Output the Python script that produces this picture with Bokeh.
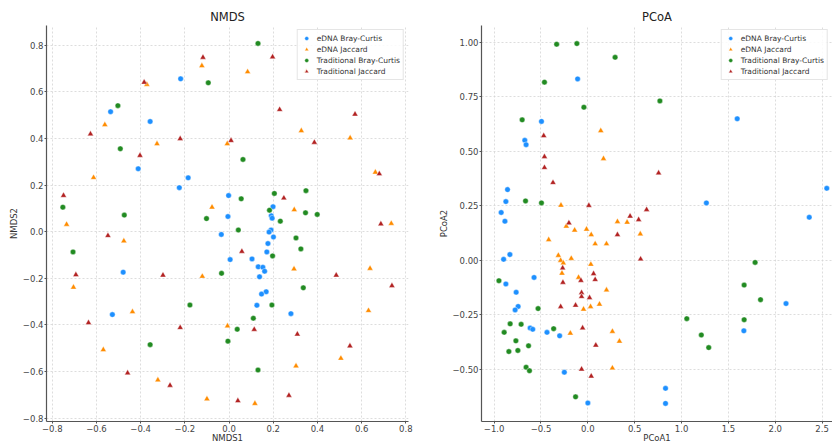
from bokeh.plotting import figure
from bokeh.layouts import row
from bokeh.models import FixedTicker, Range1d
from bokeh.embed import file_html
from bokeh.resources import INLINE

series_names = ["eDNA Bray-Curtis", "eDNA Jaccard", "Traditional Bray-Curtis", "Traditional Jaccard"]
series_colors = ["#1e90ff", "#ff8c00", "#228b22", "#b22222"]
series_markers = ["circle", "triangle", "circle", "triangle"]

# ---------------- NMDS ----------------
nmds_edna_bc_x = [-0.536, -0.411, -0.357, -0.219, -0.225, -0.185, -0.005, -0.002, -0.035, 0.199,
                  0.191, 0.195, 0.190, 0.181, -0.479, 0.005, -0.528, 0.201, 0.176, 0.171,
                  0.104, 0.132, 0.153, 0.161, 0.138, 0.168, 0.147, 0.126, 0.280]
nmds_edna_bc_y = [0.515, 0.270, 0.473, 0.656, 0.189, 0.231, 0.065, 0.155, -0.012, 0.107,
                  0.068, 0.058, 0.007, -0.002, -0.174, -0.120, -0.356, -0.023, -0.051, -0.087,
                  -0.117, -0.151, -0.153, -0.170, -0.194, -0.258, -0.268, -0.316, -0.352]

nmds_edna_j_x = [-0.735, -0.613, -0.562, -0.372, -0.326, -0.123, -0.077, -0.008, 0.084, 0.349,
                 0.327, 0.548, 0.662, 0.295, 0.734, -0.476, -0.704, -0.121, -0.437, -0.007,
                 -0.569, -0.322, -0.100, 0.294, 0.638, 0.631, 0.506, 0.303, 0.117]
nmds_edna_j_y = [0.031, 0.232, 0.459, 0.632, 0.377, 0.712, 0.105, 0.377, 0.686, 0.689,
                 0.433, 0.402, 0.255, 0.094, 0.035, -0.040, -0.239, -0.192, -0.344, -0.405,
                 -0.507, -0.637, -0.718, -0.160, -0.158, -0.339, -0.544, -0.577, -0.738]

nmds_trad_bc_x = [-0.752, -0.503, -0.492, -0.474, -0.094, -0.102, 0.131, 0.063, 0.055, 0.205,
                  0.348, 0.183, 0.346, 0.399, 0.232, 0.042, -0.706, -0.034, -0.177, -0.357,
                  -0.005, 0.303, 0.325, 0.197, 0.336, 0.194, 0.110, 0.037, 0.131]
nmds_trad_bc_y = [0.105, 0.541, 0.356, 0.071, 0.639, 0.056, 0.808, 0.310, 0.141, 0.164,
                  0.176, 0.092, 0.081, 0.074, 0.045, 0.007, -0.087, -0.179, -0.315, -0.485,
                  -0.470, -0.027, -0.074, -0.104, -0.241, -0.315, -0.372, -0.419, -0.594]

nmds_trad_j_x = [-0.749, -0.627, -0.403, -0.384, -0.221, -0.118, 0.009, 0.197, 0.229, 0.570,
                 0.386, 0.680, 0.248, 0.687, -0.548, -0.693, -0.299, -0.636, -0.221, -0.459,
                 -0.267, 0.058, 0.485, 0.737, 0.114, 0.309, 0.547, 0.271, 0.040]
nmds_trad_j_y = [0.155, 0.419, 0.327, 0.641, 0.399, 0.748, 0.391, 0.750, 0.524, 0.504,
                 0.383, 0.248, 0.144, 0.033, -0.017, -0.185, -0.187, -0.391, -0.412, -0.607,
                 -0.660, -0.085, -0.187, -0.232, -0.420, -0.440, -0.491, -0.703, -0.726]

# ---------------- PCoA ----------------
pcoa_edna_bc_x = [-0.109, -0.495, -0.673, -0.659, -0.857, -0.875, -0.925, -0.885, 1.594, 2.550,
                  1.265, 2.363, -0.899, -0.832, -0.574, -0.875, -0.765, -0.744, -0.776, -0.616,
                  -0.588, -0.436, -0.301, -0.251, 0.000, 2.115, 1.665, 0.829, 0.829]
pcoa_edna_bc_y = [0.833, 0.638, 0.551, 0.531, 0.325, 0.270, 0.220, 0.180, 0.650, 0.331,
                  0.264, 0.198, 0.005, 0.027, -0.078, -0.108, -0.146, -0.211, -0.227, -0.310,
                  -0.316, -0.330, -0.346, -0.513, -0.654, -0.198, -0.323, -0.587, -0.656]

pcoa_edna_j_x = [0.138, 0.167, -0.287, -0.230, -0.141, -0.014, 0.316, 0.419, 0.560, 0.036,
                 -0.418, 0.078, 0.199, -0.315, -0.290, -0.262, -0.177, 0.032, -0.276, -0.099,
                 0.199, 0.124, 0.029, -0.046, 0.262, -0.187, 0.337, 0.262]
pcoa_edna_j_y = [0.595, 0.467, 0.253, 0.157, 0.139, 0.143, 0.178, 0.175, 0.121, 0.118,
                 0.095, 0.076, 0.076, 0.023, 0.000, -0.012, 0.009, -0.018, -0.059, -0.078,
                 -0.136, -0.201, -0.212, -0.224, -0.326, -0.334, -0.371, -0.494]

pcoa_trad_bc_x = [-0.333, -0.117, 0.291, -0.463, -0.042, -0.701, -0.665, -0.495, 0.769, -0.949,
                  -0.531, -0.829, -0.712, -0.365, -0.893, -0.768, -0.633, -0.747, -0.843, -0.659,
                  -0.623, -0.131, 1.785, 1.668, 1.843, 1.056, 1.668, 1.211, 1.290]
pcoa_trad_bc_y = [0.992, 0.995, 0.932, 0.818, 0.703, 0.645, 0.273, 0.264, 0.732, -0.093,
                  -0.221, -0.291, -0.293, -0.313, -0.330, -0.369, -0.392, -0.413, -0.418, -0.490,
                  -0.506, -0.626, -0.009, -0.113, -0.180, -0.267, -0.272, -0.342, -0.400]

pcoa_trad_j_x = [-0.471, -0.463, -0.463, -0.372, 0.011, -0.202, 0.451, 0.542, 0.755, 0.627,
                 0.316, 0.563, -0.269, 0.061, -0.074, 0.078, -0.266, -0.067, -0.067, 0.018,
                 -0.131, -0.290, -0.056, 0.085, -0.067, 0.036]
pcoa_trad_j_y = [0.572, 0.476, 0.426, 0.357, 0.252, 0.172, 0.203, 0.187, 0.401, 0.233,
                 0.118, 0.006, -0.035, -0.061, -0.092, -0.088, -0.101, -0.148, -0.166, -0.171,
                 -0.206, -0.212, -0.310, -0.389, -0.499, -0.531]

# ---------------- ticks ----------------
nmds_ticks = [-0.8, -0.6, -0.4, -0.2, 0.0, 0.2, 0.4, 0.6, 0.8]
nmds_tick_labels = ["\u22120.8", "\u22120.6", "\u22120.4", "\u22120.2", "0.0", "0.2", "0.4", "0.6", "0.8"]
pcoa_x_ticks = [-1.0, -0.5, 0.0, 0.5, 1.0, 1.5, 2.0, 2.5]
pcoa_x_tick_labels = ["\u22121.0", "\u22120.5", "0.0", "0.5", "1.0", "1.5", "2.0", "2.5"]
pcoa_y_ticks = [-0.5, -0.25, 0.0, 0.25, 0.5, 0.75, 1.0]
pcoa_y_tick_labels = ["\u22120.50", "\u22120.25", "0.00", "0.25", "0.50", "0.75", "1.00"]

FONT = "DejaVu Sans"


def make_panel(title, series, xr, yr, xt, xtl, yt, ytl, xlabel, ylabel, width, mbl, mbr, ylab_standoff):
    p = figure(width=width, height=445, output_backend="svg", toolbar_location=None,
               x_range=Range1d(*xr), y_range=Range1d(*yr),
               min_border_left=mbl, min_border_right=mbr, min_border_top=25, min_border_bottom=22)
    p.title.text = title
    p.title.align = "center"
    p.title.text_font = FONT
    p.title.text_font_size = "11.5px"
    p.title.text_font_style = "normal"
    p.title.text_color = "#222222"
    p.title.standoff = 3
    p.outline_line_color = None
    p.background_fill_color = "white"
    p.border_fill_color = "white"

    for (xs, ys), name, col, mk in zip(series, series_names, series_colors, series_markers):
        p.scatter(xs, ys, marker=mk, size=5.5 if mk == "circle" else 6,
                  fill_color=col, line_color="white", line_width=0.4,
                  legend_label=name)

    p.xaxis.ticker = FixedTicker(ticks=xt)
    p.xaxis.major_label_overrides = dict(zip(xt, xtl))
    p.yaxis.ticker = FixedTicker(ticks=yt)
    p.yaxis.major_label_overrides = dict(zip(yt, ytl))
    p.xaxis.axis_label = xlabel
    p.yaxis.axis_label = ylabel

    p.grid.grid_line_color = "#d4d4d4"
    p.grid.grid_line_dash = "2 2"
    p.grid.grid_line_width = 0.8

    p.axis.axis_line_color = "#555555"
    p.axis.axis_line_width = 1.2
    p.axis.major_tick_line_color = "#555555"
    p.axis.minor_tick_line_color = None
    p.axis.major_tick_out = 2
    p.axis.major_tick_in = 0
    p.axis.major_label_text_font = FONT
    p.axis.major_label_text_font_size = "8.5px"
    p.axis.major_label_text_color = "#444444"
    p.axis.major_label_standoff = 1
    p.axis.axis_label_text_font = FONT
    p.axis.axis_label_text_font_size = "8.5px"
    p.axis.axis_label_text_font_style = "normal"
    p.axis.axis_label_text_color = "#333333"
    p.xaxis.axis_label_standoff = -2
    p.yaxis.axis_label_standoff = ylab_standoff

    lg = p.legend[0]
    lg.location = "top_right"
    lg.label_text_font = FONT
    lg.label_text_font_size = "7.5px"
    lg.label_text_color = "#333333"
    lg.glyph_width = 11
    lg.glyph_height = 10
    lg.label_height = 9
    lg.label_standoff = 5
    lg.spacing = 1
    lg.padding = 3
    lg.margin = 4
    lg.border_line_color = "#cccccc"
    lg.border_line_width = 1
    lg.background_fill_alpha = 0.85
    return p


p1 = make_panel(
    "NMDS",
    [(nmds_edna_bc_x, nmds_edna_bc_y), (nmds_edna_j_x, nmds_edna_j_y),
     (nmds_trad_bc_x, nmds_trad_bc_y), (nmds_trad_j_x, nmds_trad_j_y)],
    (-0.826, 0.812), (-0.815, 0.885),
    nmds_ticks, nmds_tick_labels, nmds_ticks, nmds_tick_labels,
    "NMDS1", "NMDS2", 436, 46, 28, 1)

p2 = make_panel(
    "PCoA",
    [(pcoa_edna_bc_x, pcoa_edna_bc_y), (pcoa_edna_j_x, pcoa_edna_j_y),
     (pcoa_trad_bc_x, pcoa_trad_bc_y), (pcoa_trad_j_x, pcoa_trad_j_y)],
    (-1.135, 2.611), (-0.739, 1.078),
    pcoa_x_ticks, pcoa_x_tick_labels, pcoa_y_ticks, pcoa_y_tick_labels,
    "PCoA1", "PCoA2", 396, 40, 0, 0)

layout = row(p1, p2)
open("out.html", "w").write(file_html(layout, INLINE))
